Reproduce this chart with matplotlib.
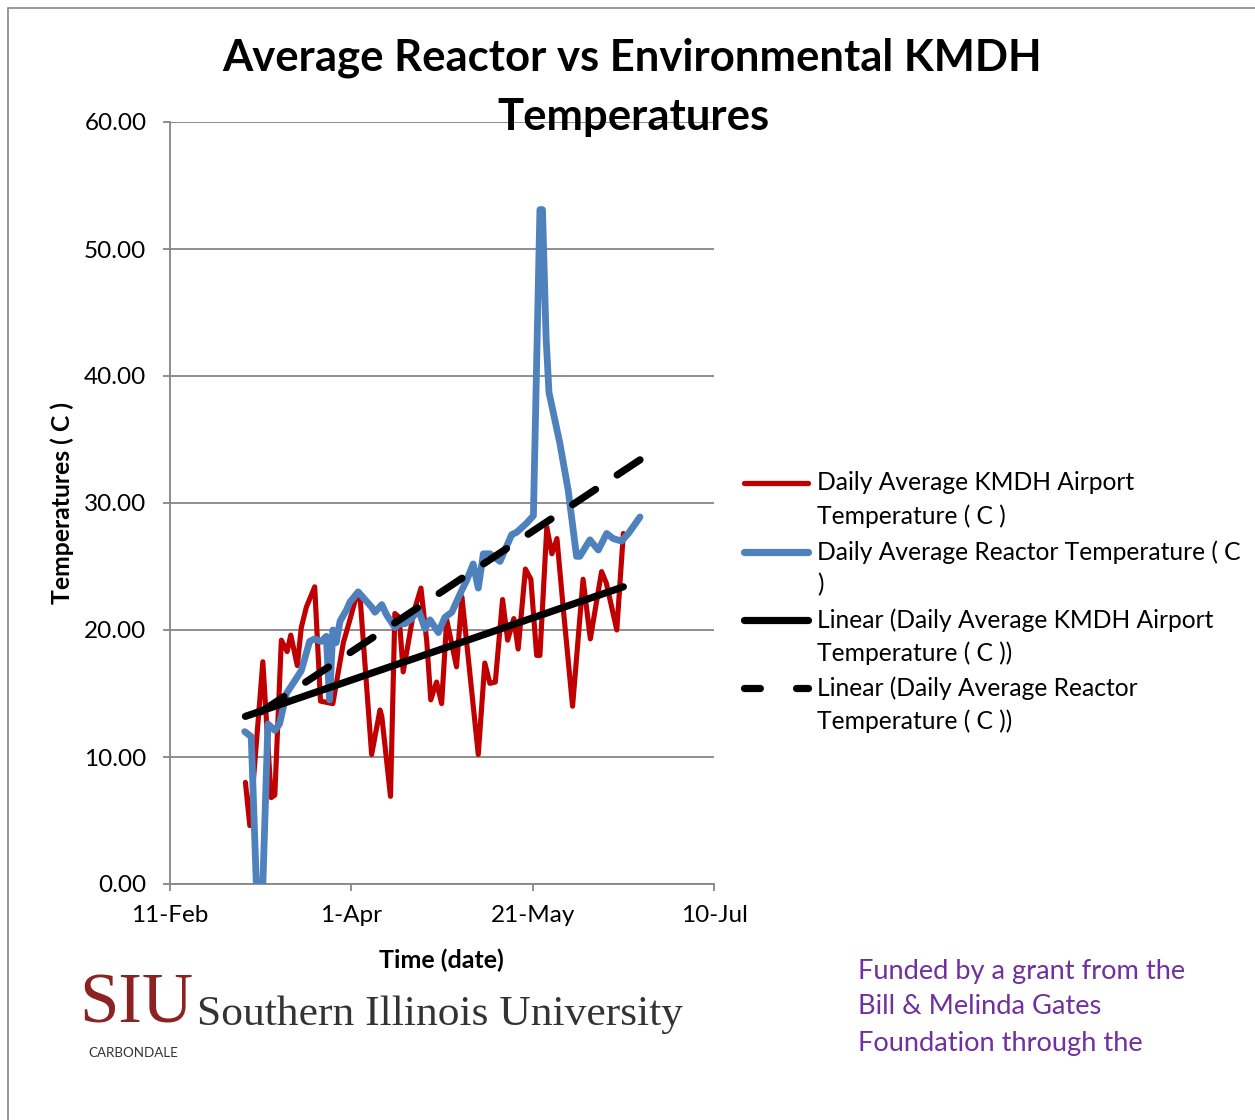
import numpy as np
import matplotlib
matplotlib.use('Agg')
import matplotlib.pyplot as plt
from matplotlib.lines import Line2D
from matplotlib.patches import Rectangle

plt.rcParams['font.family'] = ['Lato', 'DejaVu Sans']

# x values are days after 11-Feb (2012)
airport_days = [20.8, 22.0, 25.6, 27.9, 28.9, 30.7, 32.3, 33.3, 35.1, 36.2,
                37.6, 39.9, 41.5, 44.9, 47.8, 49.6, 51.7, 52.4, 55.6, 57.9,
                58.4, 60.8, 62.0, 63.2, 64.3, 66.2, 67.1, 69.2, 70.8, 71.9,
                73.5, 74.9, 76.3, 79.0, 80.5, 85.0, 86.8, 88.2, 89.7, 91.7,
                93.1, 94.8, 96.0, 98.0, 99.5, 101.1, 102.0, 103.9, 105.3, 106.7,
                108.4, 111.0, 113.9, 115.9, 119.0, 120.3, 123.2, 125.0]
airport_temp = [8.0, 4.6, 17.5, 6.8, 7.0, 19.2, 18.3, 19.6, 17.2, 20.2,
                21.8, 23.4, 14.4, 14.2, 19.0, 20.8, 23.0, 22.6, 10.2, 13.7,
                13.2, 6.9, 21.3, 21.0, 16.7, 19.8, 21.3, 23.3, 19.1, 14.5,
                15.9, 14.2, 20.8, 17.1, 22.6, 10.2, 17.4, 15.8, 15.9, 22.4,
                19.2, 20.9, 18.5, 24.8, 24.0, 18.0, 18.0, 28.1, 26.0, 27.2,
                21.8, 14.0, 24.0, 19.3, 24.6, 23.7, 20.0, 27.6]

reactor_days = [20.6, 22.4, 23.8, 25.6, 27.0, 28.9, 30.2, 32.1, 34.4, 36.2,
                38.5, 39.9, 41.7, 43.1, 44.0, 44.9, 45.8, 46.9, 48.7, 49.6,
                51.9, 55.6, 56.5, 58.4, 59.7, 62.0, 63.4, 64.8, 66.6, 68.5,
                70.3, 71.7, 74.0, 75.8, 77.7, 80.4, 81.8, 83.6, 85.0, 86.4,
                88.2, 91.0, 94.2, 95.6, 98.3, 100.2, 102.0, 102.7, 103.7, 104.5,
                107.5, 109.8, 112.1, 113.0, 115.8, 117.2, 118.1, 120.4, 122.2, 124.5,
                126.4, 129.6]
reactor_temp = [12.0, 11.6, 0.0, 0.0, 12.6, 12.1, 12.6, 15.0, 16.0, 16.8,
                19.1, 19.3, 19.1, 19.5, 14.5, 20.0, 19.0, 20.7, 21.6, 22.2,
                23.0, 21.8, 21.4, 22.0, 21.2, 20.2, 20.5, 20.5, 20.9, 21.6,
                20.1, 20.8, 19.8, 21.0, 21.4, 23.1, 23.9, 25.2, 23.3, 26.0,
                26.0, 25.4, 27.5, 27.7, 28.4, 29.0, 53.1, 53.1, 43.0, 38.7,
                34.7, 31.0, 25.8, 25.8, 27.1, 26.6, 26.3, 27.6, 27.2, 27.0,
                27.6, 28.9]

# linear trend values at the first and last day of each series (as drawn)
airport_trend = [13.2, 23.4]
reactor_trend = [12.7, 33.4]

tick_days = [0, 50, 100, 150]
tick_labels = ['11-Feb', '1-Apr', '21-May', '10-Jul']
y_ticks = [0, 10, 20, 30, 40, 50, 60]

legend_labels = [
    ('Daily Average KMDH Airport', 'Temperature ( C )'),
    ('Daily Average Reactor Temperature ( C', ')'),
    ('Linear (Daily Average KMDH Airport', 'Temperature ( C ))'),
    ('Linear (Daily Average Reactor', 'Temperature ( C ))'),
]

RED = '#C00000'
BLUE = '#4F81BD'
GRID = '#868686'
W, H = 1255, 1120

fig = plt.figure(figsize=(W / 100, H / 100), dpi=100)
ax = fig.add_axes([170 / W, 1 - 884 / H, 544 / W, 762 / H])

ax.plot(airport_days, airport_temp, color=RED, lw=3.7,
        solid_joinstyle='round', solid_capstyle='round', zorder=3)
ax.plot(reactor_days, reactor_temp, color=BLUE, lw=4.9,
        solid_joinstyle='round', solid_capstyle='round', zorder=4)
ax.plot([airport_days[0], airport_days[-1]], airport_trend, color='black',
        lw=5.2, solid_capstyle='round', zorder=5)
# drawn from the right end so the pattern finishes on a dash there, as in Excel
ax.plot([reactor_days[-1], reactor_days[0]], reactor_trend[::-1], color='black',
        lw=5.2, dashes=(3.8, 3.6), dash_capstyle='round', zorder=5)

ax.set_xlim(0, 150)
ax.set_ylim(0, 60)
ax.set_xticks(tick_days)
ax.set_xticklabels(tick_labels)
ax.set_yticks(y_ticks)
ax.set_yticklabels(['%.2f' % v for v in y_ticks])
ax.grid(axis='y', color=GRID, lw=1.3)
ax.set_axisbelow(True)
for s in ['top', 'right']:
    ax.spines[s].set_visible(False)
for s in ['left', 'bottom']:
    ax.spines[s].set_color(GRID)
    ax.spines[s].set_linewidth(1.3)
ax.tick_params(axis='both', colors=GRID, labelcolor='black', labelsize=17.5,
               length=5, width=1.3)
ax.tick_params(axis='y', pad=12)
ax.tick_params(axis='x', pad=10)

# titles and axis labels
fig.text(632 / W, 1 - 58 / H, 'Average Reactor vs Environmental KMDH',
         ha='center', va='center', fontsize=31.4, fontweight='bold')
fig.text(633 / W, 1 - 117 / H, 'Temperatures',
         ha='center', va='center', fontsize=31.4, fontweight='bold')
fig.text(441 / W, 1 - 960 / H, 'Time (date)', ha='center', va='center',
         fontsize=18, fontweight='bold')
fig.text(62 / W, 1 - 503 / H, 'Temperatures ( C )', ha='center', va='center',
         rotation=90, fontsize=17.8, fontweight='bold')

# legend, drawn beside the plot with the sample level with the first text line
leg_styles = [
    dict(color=RED, lw=3.8),
    dict(color=BLUE, lw=5.2),
    dict(color='black', lw=5.2),
    dict(color='black', lw=5.2, dashes=(2.2, 5.0), dash_capstyle='round'),
]
leg_y = [483, 552, 620, 688]
for (l1, l2), st, y in zip(legend_labels, leg_styles, leg_y):
    fig.add_artist(Line2D([744 / W, 808 / W], [1 - y / H, 1 - y / H],
                          transform=fig.transFigure, solid_capstyle='round', **st))
    fig.text(817 / W, 1 - y / H, l1, ha='left', va='center', fontsize=17.7)
    fig.text(817 / W, 1 - (y + 33) / H, l2, ha='left', va='center', fontsize=17.7)

# footer
fig.text(79 / W, 1 - 1005 / H, 'SIU', ha='left', va='center', fontsize=51,
         family='Liberation Serif', color='#8B2323')
fig.text(88 / W, 1 - 1053 / H, 'CARBONDALE', ha='left', va='center', fontsize=9.6,
         color='#333333')
fig.text(197 / W, 1 - 1015 / H, 'Southern Illinois University', ha='left', va='center',
         fontsize=31.3, family='Liberation Serif', color='#333333')
funded = ['Funded by a grant from the', 'Bill & Melinda Gates', 'Foundation through the']
for i, line in enumerate(funded):
    fig.text(858 / W, 1 - (971 + 36 * i) / H, line, ha='left', va='center',
             fontsize=19.6, color='#7030A0')

fig.add_artist(Rectangle((8 / W, -0.05), 1.2, 1 - 8 / H + 0.05, transform=fig.transFigure,
                         fill=False, edgecolor='#888888', lw=1.2))

fig.savefig('out.png', dpi=100)
